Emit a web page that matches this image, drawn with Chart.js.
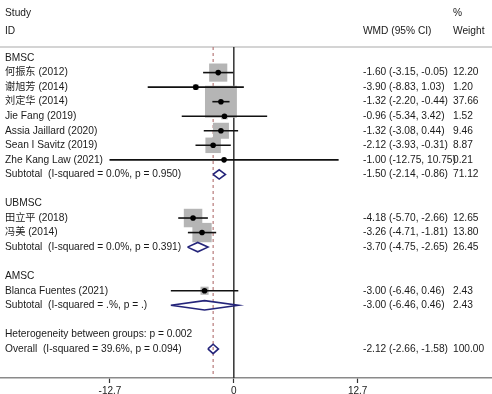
<!DOCTYPE html>
<html>
<head>
<meta charset="utf-8">
<script src="https://cdn.jsdelivr.net/npm/chart.js@4/dist/chart.umd.min.js"></script>
<style>
  body { margin: 0; background: #fff; overflow: hidden; }
  #wrap { width: 492px; height: 403px; }
</style>
</head>
<body>
<div id="wrap"><canvas id="forest"></canvas></div>
<script>
// studies
const study_names = ['何振东 (2012)', '谢旭芳 (2014)', '刘定华 (2014)', 'Jie Fang (2019)', 'Assia Jaillard (2020)', 'Sean I Savitz (2019)', 'Zhe Kang Law (2021)', '田立平 (2018)', '冯美 (2014)', 'Blanca Fuentes (2021)'];
const study_rows = [1, 2, 3, 4, 5, 6, 7, 11, 12, 16];
const study_est = [-1.60, -3.90, -1.32, -0.96, -1.32, -2.12, -1.00, -4.18, -3.26, -3.00];
const study_lo = [-3.15, -8.83, -2.20, -5.34, -3.08, -3.93, -12.75, -5.70, -4.71, -6.46];
const study_hi = [-0.05, 1.03, -0.44, 3.42, 0.44, -0.31, 10.75, -2.66, -1.81, 0.46];
const study_weight = [12.20, 1.20, 37.66, 1.52, 9.46, 8.87, 0.21, 12.65, 13.80, 2.43];

// subtotals + overall
const pooled_names = ['Subtotal  (I-squared = 0.0%, p = 0.950)', 'Subtotal  (I-squared = 0.0%, p = 0.391)', 'Subtotal  (I-squared = .%, p = .)', 'Overall  (I-squared = 39.6%, p = 0.094)'];
const pooled_rows = [8, 13, 17, 20];
const pooled_est = [-1.50, -3.70, -3.00, -2.12];
const pooled_lo = [-2.14, -4.75, -6.46, -2.66];
const pooled_hi = [-0.86, -2.65, 0.46, -1.58];
const pooled_weight = [71.12, 26.45, 2.43, 100.00];

const group_names = ['BMSC', 'UBMSC', 'AMSC'];
const group_rows = [0, 10, 15];
const hetero_text = 'Heterogeneity between groups: p = 0.002';
const hetero_row = 19;

const x_ticks = [-12.7, 0, 12.7];
const overall_est = -2.12;

const Y_MIN = -0.76, Y_MAX = 22;
const FONT = "10.2px Arial, 'Liberation Sans', 'Noto Sans CJK SC', sans-serif";

const datasets = [];

// weight boxes
datasets.push({
    data: study_est.map((v, i) => ({x: v, y: study_rows[i]})),
    pointStyle: 'rect',
    pointRadius: (ctx) => 5.2 * Math.sqrt(study_weight[ctx.dataIndex] || 0) / 1.414,
    backgroundColor: '#b5b5b5',
    borderWidth: 0,
    order: 3
});

// confidence intervals
study_est.forEach((v, i) => {
    datasets.push({
        data: [{x: study_lo[i], y: study_rows[i]}, {x: study_hi[i], y: study_rows[i]}],
        showLine: true,
        borderColor: '#111',
        borderWidth: 1.6,
        pointRadius: 0,
        order: 1
    });
});

// point estimates
datasets.push({
    data: study_est.map((v, i) => ({x: v, y: study_rows[i]})),
    pointStyle: 'circle',
    pointRadius: 2.8,
    backgroundColor: '#000',
    borderWidth: 0,
    order: 0
});

// diamonds
pooled_est.forEach((v, i) => {
    const r = pooled_rows[i], h = 0.32;
    datasets.push({
        data: [{x: pooled_lo[i], y: r}, {x: v, y: r - h}, {x: pooled_hi[i], y: r}, {x: v, y: r + h}, {x: pooled_lo[i], y: r}],
        showLine: true,
        borderColor: '#24247a',
        borderWidth: 1.6,
        pointRadius: 0,
        order: 1
    });
});

// no-effect line and overall dashed line
datasets.push({
    data: [{x: 0, y: Y_MIN}, {x: 0, y: Y_MAX}],
    showLine: true, borderColor: '#333', borderWidth: 1.5, pointRadius: 0, order: 5
});
datasets.push({
    data: [{x: overall_est, y: Y_MIN}, {x: overall_est, y: Y_MAX}],
    showLine: true, borderColor: '#b77a7a', borderWidth: 1.2, borderDash: [3, 3], pointRadius: 0, order: 4
});

const text_plugin = {
    id: 'forest_text',
    afterDraw(chart) {
        const ctx = chart.ctx;
        const ys = chart.scales.y;
        ctx.save();
        ctx.font = FONT;
        ctx.fillStyle = '#1a1a1a';
        ctx.textBaseline = 'middle';
        ctx.textAlign = 'left';
        // header
        ctx.fillText('Study', 5, 13);
        ctx.fillText('ID', 5, 31);
        ctx.fillText('WMD (95% CI)', 363, 31);
        ctx.fillText('%', 453, 13);
        ctx.fillText('Weight', 453, 31);

        group_names.forEach((g, i) => ctx.fillText(g, 5, ys.getPixelForValue(group_rows[i])));
        study_names.forEach((s, i) => {
            const y = ys.getPixelForValue(study_rows[i]);
            ctx.fillText(s, 5, y);
            ctx.fillText(study_est[i].toFixed(2) + ' (' + study_lo[i].toFixed(2) + ', ' + study_hi[i].toFixed(2) + ')', 363, y);
            ctx.fillText(study_weight[i].toFixed(2), 453, y);
        });
        pooled_names.forEach((s, i) => {
            const y = ys.getPixelForValue(pooled_rows[i]);
            ctx.fillText(s, 5, y);
            ctx.fillText(pooled_est[i].toFixed(2) + ' (' + pooled_lo[i].toFixed(2) + ', ' + pooled_hi[i].toFixed(2) + ')', 363, y);
            ctx.fillText(pooled_weight[i].toFixed(2), 453, y);
        });
        ctx.fillText(hetero_text, 5, ys.getPixelForValue(hetero_row));
        ctx.restore();
    }
};

new Chart(document.getElementById('forest'), {
    type: 'scatter',
    data: { datasets: datasets },
    plugins: [text_plugin],
    options: {
        responsive: true,
        maintainAspectRatio: false,
        animation: false,
        layout: { autoPadding: false, padding: { top: 47, bottom: 4, left: 0, right: 0 } },
        plugins: { legend: { display: false }, tooltip: { enabled: false } },
        scales: {
            x: {
                type: 'linear',
                min: -23.98,
                max: 26.48,
                position: 'bottom',
                afterBuildTicks: (axis) => { axis.ticks = x_ticks.map(v => ({value: v})); },
                ticks: { color: '#222', font: { size: 10, family: 'Arial, Liberation Sans' }, padding: 2, maxRotation: 0, callback: (v) => String(v) },
                grid: { drawOnChartArea: false, drawTicks: true, tickLength: 5, color: '#333', tickWidth: 1.2 },
                border: { color: '#8a8a8a', width: 1.5 }
            },
            x2: {
                type: 'linear',
                position: 'top',
                ticks: { display: false },
                grid: { display: false, drawTicks: false },
                border: { color: '#d4d4d4', width: 2 }
            },
            y: { type: 'linear', reverse: true, min: Y_MIN, max: Y_MAX, display: false }
        }
    }
});
</script>
</body>
</html>
